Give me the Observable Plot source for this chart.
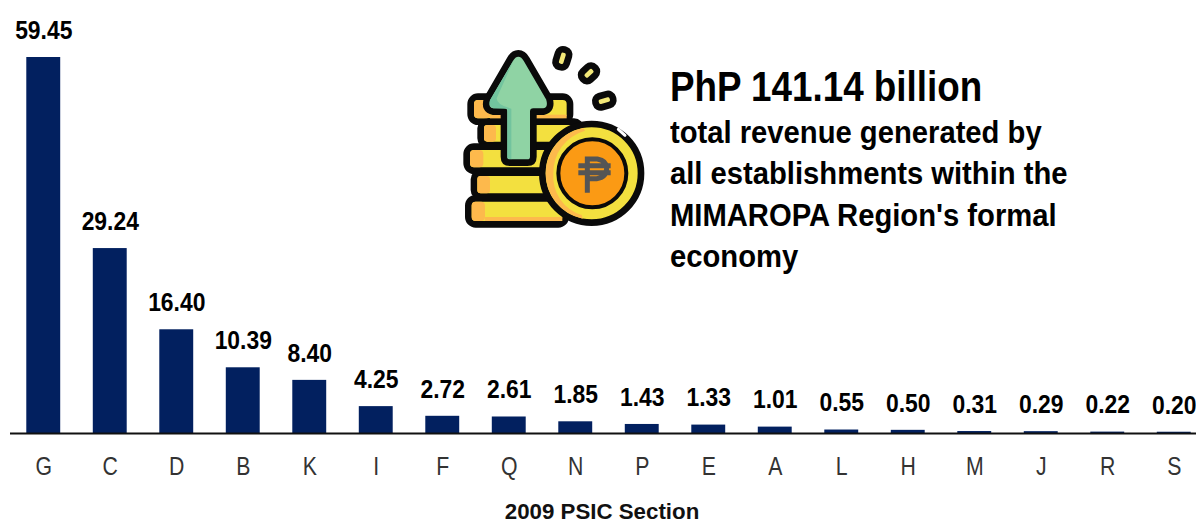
<!DOCTYPE html>
<html>
<head>
<meta charset="utf-8">
<script src="https://cdn.jsdelivr.net/npm/d3@7"></script>
<script src="https://cdn.jsdelivr.net/npm/@observablehq/plot@0.6"></script>
<style>
html,body{margin:0;padding:0;background:#fff;width:1196px;height:524px;overflow:hidden}
#wrap{position:relative;width:1196px;height:524px}
#chart svg{display:block;position:absolute;left:0;top:0;background:#fff}
#icon{position:absolute;left:450px;top:30px}
.t{position:absolute;left:670px;font-family:"Liberation Sans",sans-serif;font-weight:700;color:#000;white-space:nowrap;transform-origin:0 0}
</style>
</head>
<body>
<div id="wrap">
<div id="chart"></div>
<svg id="icon" width="220" height="210" viewBox="0 0 660 630" stroke-linejoin="round" stroke-linecap="round">
  <g stroke="#0a0a0a" stroke-width="20">
    <rect x="62" y="200" width="298" height="75" rx="22" fill="#f3e03f"/>
    <rect x="92" y="275" width="300" height="70" rx="20" fill="#f3e03f"/>
    <rect x="50" y="350" width="260" height="72" rx="22" fill="#f3e03f"/>
    <rect x="72" y="428" width="230" height="72" rx="20" fill="#f3e03f"/>
    <rect x="55" y="505" width="292" height="78" rx="22" fill="#f3e03f"/>
  </g>
  <g fill="#fdb94c">
    <rect x="72" y="210" width="50" height="55" rx="12"/>
    <rect x="120" y="254" width="230" height="11"/>
    <rect x="102" y="285" width="36" height="50" rx="10"/>
    <rect x="60" y="360" width="40" height="52" rx="12"/>
    <rect x="82" y="438" width="38" height="52" rx="10"/>
    <rect x="65" y="515" width="40" height="58" rx="12"/>
    <rect x="105" y="561" width="232" height="12"/>
  </g>
  <path d="M205 70 Q190 70 180 88 L112 205 Q100 240 130 245 L162 245 L162 380 Q162 398 180 398 L232 398 Q250 398 250 380 L250 245 L280 245 Q308 240 298 205 L230 88 Q220 70 205 70Z" fill="#8fd3a4" stroke="#0a0a0a" stroke-width="20"/>
  <path d="M190 92 L120 210 Q114 228 130 235 L172 236 L172 385 L184 388 L184 236 Q140 225 140 205 Z" fill="#72c49e"/>
  <circle cx="425" cy="430" r="148" fill="#f3e03f" stroke="#0a0a0a" stroke-width="20"/>
  <path d="M287 430 A138 138 0 0 1 400 294 L405 302 A130 130 0 0 0 310 430 A120 120 0 0 0 395 555 L398 566 A138 138 0 0 1 287 430Z" fill="#fdb94c"/>
  <path d="M505 298 L525 316" stroke="#fff" stroke-width="9" fill="none"/>
  <circle cx="427" cy="430" r="102" fill="#fb9a14" stroke="#0a0a0a" stroke-width="12"/>
  <path d="M412 488 L412 387 L442 387 Q470 392 470 414 Q470 442 440 446 L412 446 M385 407 L482 407 M385 428 L482 428" fill="none" stroke="#555" stroke-width="15" stroke-linecap="butt" stroke-linejoin="miter"/>
  <g fill="#f3e878" stroke="#0a0a0a" stroke-width="20">
    <rect x="-17" y="-27" width="34" height="54" rx="15" transform="translate(337 85) rotate(17)"/>
    <rect x="-17" y="-25" width="34" height="50" rx="15" transform="translate(417 130) rotate(47)"/>
    <rect x="-17" y="-27" width="34" height="54" rx="15" transform="translate(463 212) rotate(74)"/>
  </g>
</svg>
<div class="t" style="top:63px;font-size:42px;line-height:48px;transform:scaleX(.876)">PhP 141.14 billion</div>
<div class="t" style="top:112px;font-size:31px;line-height:41.3px;transform:scaleX(.942)">total revenue generated by<br>all establishments within the<br>MIMAROPA Region's formal<br>economy</div>
</div>
<script>
const sections = ["G","C","D","B","K","I","F","Q","N","P","E","A","L","H","M","J","R","S"];
const revenue = [59.45,29.24,16.40,10.39,8.40,4.25,2.72,2.61,1.85,1.43,1.33,1.01,0.55,0.50,0.31,0.29,0.22,0.20];
const axisTitle = "2009 PSIC Section";
const rows = sections.map((s,i)=>({section:s,value:revenue[i]}));
const font = '"Liberation Sans",sans-serif';
const plot = Plot.plot({
  width:1196,height:524,
  marginTop:57,marginBottom:91,marginLeft:10,marginRight:-11,
  style:{background:"#fff"},
  x:{domain:sections,paddingInner:0.49,paddingOuter:0.245,round:false,label:null},
  y:{domain:[0,59.45],axis:null},
  marks:[
    Plot.barY(rows,{x:"section",y:"value",fill:"#02205f"}),
    Plot.ruleY([0],{stroke:"#111",strokeWidth:2}),
    Plot.text(rows,{x:"section",y:"value",text:d=>d.value.toFixed(2),dy:-27,lineAnchor:"middle",fontFamily:font,fontWeight:700,fontSize:26,fill:"#000",className:"vals"}),
    Plot.axisX({tickSize:0,tickPadding:24,label:null,fontFamily:font,fontSize:25,fill:"#333",className:"ticks"}),
    Plot.text([axisTitle],{frameAnchor:"bottom",dx:-7,dy:78.5,fontFamily:font,fontWeight:700,fontSize:23,fill:"#111",lineAnchor:"middle",className:"atitle"})
  ]
});
document.getElementById("chart").appendChild(plot);
// The reference uses a narrow face; none is installed, so condense the real text horizontally.
function condense(sel,k){
  plot.querySelectorAll(sel+" text").forEach(t=>{
    const x=+t.getAttribute("x")||0;
    const base=t.getAttribute("transform")||"";
    t.setAttribute("transform",`${base} translate(${x},0) scale(${k},1) translate(${-x},0)`);
  });
}
condense(".vals",0.88);
condense(".ticks",0.85);
condense(".atitle",0.97);
</script>
</body>
</html>
